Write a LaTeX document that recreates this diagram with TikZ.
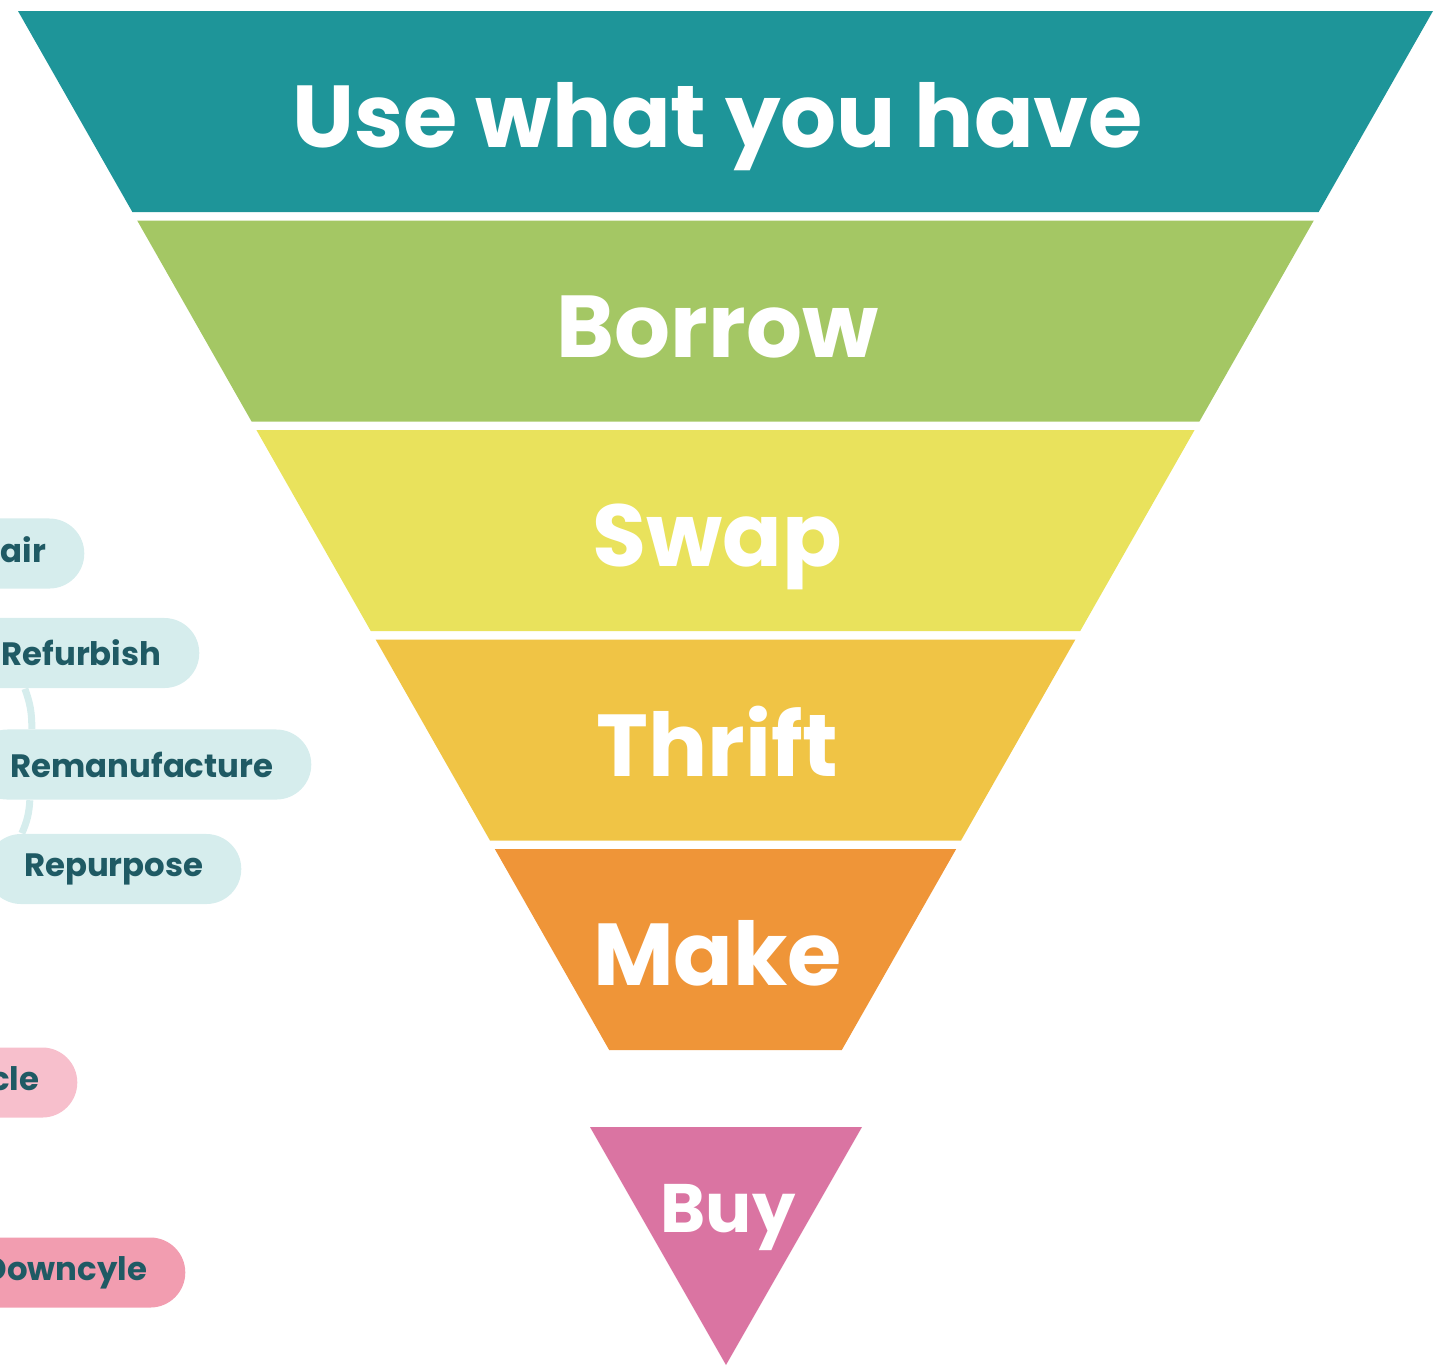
\documentclass[tikz,border=0pt]{standalone}
\usepackage{fontspec}
\setmainfont{Poppins}
\usetikzlibrary{positioning}

\definecolor{useteal}{HTML}{1E9599}
\definecolor{borrowgreen}{HTML}{A4C764}
\definecolor{swapyellow}{HTML}{E9E25C}
\definecolor{thriftgold}{HTML}{F0C445}
\definecolor{makeorange}{HTML}{EF9538}
\definecolor{buypink}{HTML}{DA74A2}
\definecolor{pillcyan}{HTML}{D6EDED}
\definecolor{pillpink}{HTML}{F7BFCC}
\definecolor{pillrose}{HTML}{F29DB0}
\definecolor{pilltext}{HTML}{1F5A64}

\begin{document}
\begin{tikzpicture}[x=0.01cm, y=-0.01cm,
    bandlabel/.style={anchor=base, text=white, font=\fontsize{25}{30}\selectfont\bfseries},
    pill/.style={fill=#1, rounded corners=0.35cm, minimum height=0.7cm, inner xsep=0.38cm,
        anchor=east, text=pilltext, font=\fontsize{9.2}{12}\selectfont\bfseries},
    link/.style={draw=pillcyan, line width=2pt}]
    \useasboundingbox (0,0) rectangle (1441,1365);
    \clip (0,0) rectangle (1441,1365);

    \def\ystart{11}   % top of the funnel
    \def\halfw{707.5} % half width at the top
    \def\slope{0.569} % inward shift per unit of depth
    \def\bandh{201}   % height of one band
    \def\period{209.5}% band plus white gap
    \def\xmid{725.5}

    % Funnel bands
    \foreach \name/\col/\lbl [count=\i from 0] in {use/useteal/Use what you have,
        borrow/borrowgreen/Borrow, swap/swapyellow/Swap, thrift/thriftgold/Thrift,
        make/makeorange/Make} {
        \pgfmathsetmacro\ya{\ystart+\period*\i}
        \pgfmathsetmacro\yb{\ya+\bandh}
        \pgfmathsetmacro\wa{\halfw-\slope*(\ya-\ystart)}
        \pgfmathsetmacro\wb{\halfw-\slope*(\yb-\ystart)}
        \fill[\col] (\xmid-\wa,\ya) -- (\xmid+\wa,\ya) -- (\xmid+\wb,\yb) -- (\xmid-\wb,\yb) -- cycle;
        \node[bandlabel] (\name) at (\xmid-8, \ya+\bandh/2+36) {\lbl};
    }

    % Buy, set apart
    \fill[buypink] (590,1127) -- (862,1127) -- (726,1365) -- cycle;
    \node[bandlabel, font=\fontsize{19.5}{24}\selectfont\bfseries] (buy) at (728,1232) {Buy};

    % Pills on the left, cut by the edge
    \node[pill=pillcyan] (repair) at (85,553.5) {Repair};
    \node[pill=pillcyan] (refurbish) at (200,653) {Refurbish};
    \node[pill=pillcyan] (remanu) at (312,764.5) {Remanufacture};
    \node[pill=pillcyan] (repurpose) at (242,869) {Repurpose};
    \node[pill=pillpink] (recycle) at (78,1082.5) {Recycle};
    \node[pill=pillrose] (downcycle) at (186,1272.5) {Downcyle};

    \draw[link] ([xshift=-1.75cm]refurbish.south east) to[bend left=10] ([xshift=-2.80cm]remanu.north east);
    \draw[link] ([xshift=-2.82cm]remanu.south east) to[bend left=10] ([xshift=-2.20cm]repurpose.north east);
\end{tikzpicture}
\end{document}
